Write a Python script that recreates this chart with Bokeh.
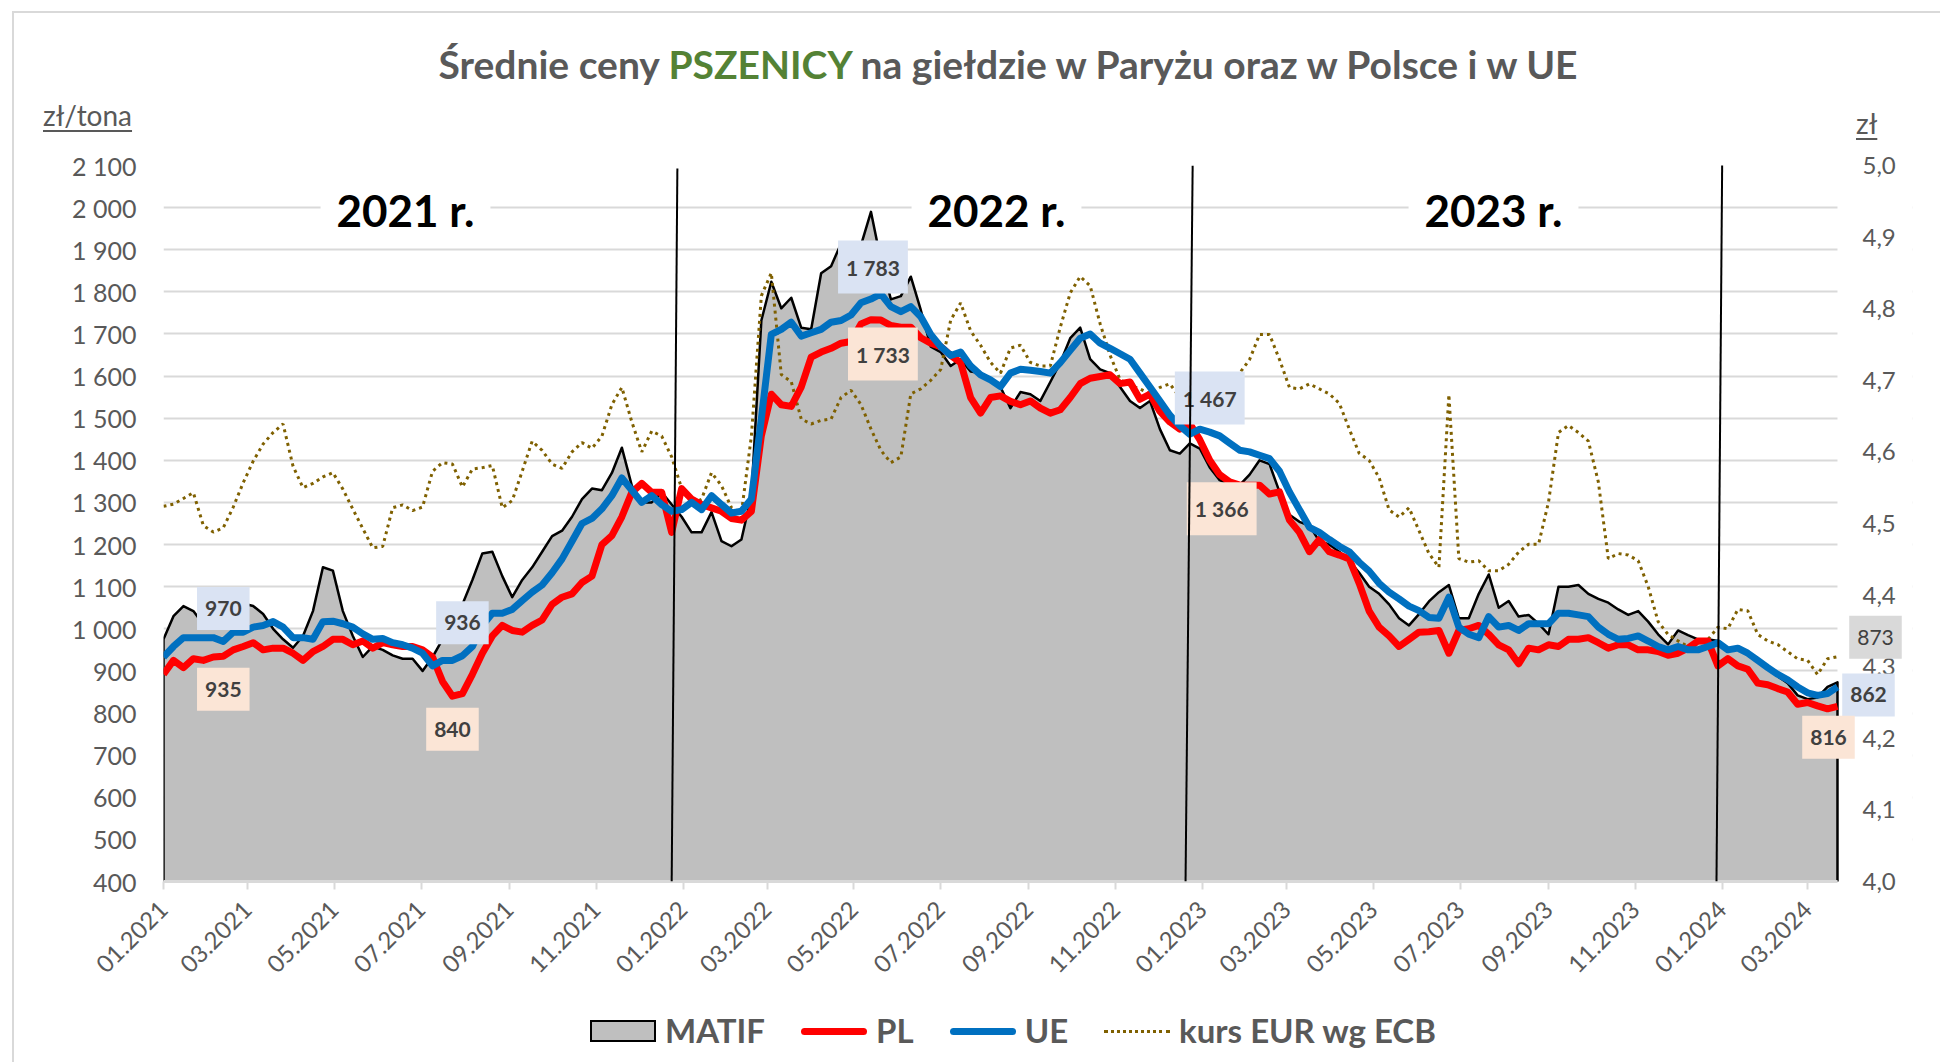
import math
import pandas as pd
from bokeh.plotting import figure
from bokeh.layouts import column
from bokeh.models import (Range1d, LinearAxis, FixedTicker, CustomJSTickFormatter,
                          DatetimeTickFormatter, Label, BoxAnnotation, Arrow, Div)
from bokeh.embed import file_html
from bokeh.resources import INLINE

# ---------------- data (weekly, from 01.01.2021) ----------------
start_date = "2021-01-01"
n_weeks = 169

matif = [
    975, 1030, 1054, 1042, 1010, 1000, 1040, 1095, 1060, 1054,
    1035, 1000, 975, 955, 983, 1042, 1146, 1138, 1042, 983,
    933, 958, 950, 937, 929, 929, 900, 933, 975, 1008,
    1058, 1116, 1179, 1183, 1125, 1075, 1116, 1146, 1183, 1220,
    1233, 1266, 1308, 1333, 1329, 1370, 1430, 1340, 1300, 1300,
    1324, 1295, 1266, 1229, 1229, 1277, 1208, 1196, 1212, 1316,
    1732, 1824, 1761, 1786, 1715, 1711, 1844, 1861, 1915, 1874,
    1911, 1990, 1874, 1782, 1790, 1836, 1757, 1670, 1657, 1624,
    1640, 1611, 1607, 1595, 1574, 1524, 1562, 1557, 1541, 1586,
    1632, 1690, 1715, 1640, 1616, 1607, 1574, 1541, 1524, 1541,
    1474, 1424, 1416, 1440, 1428, 1383, 1353, 1343, 1341, 1366,
    1400, 1391, 1325, 1271, 1254, 1245, 1208, 1200, 1183, 1162,
    1133, 1100, 1083, 1058, 1025, 1008, 1035, 1065, 1087, 1104,
    1025, 1025, 1083, 1129, 1050, 1066, 1029, 1033, 1012, 987,
    1100, 1100, 1104, 1083, 1071, 1062, 1046, 1033, 1042, 1017,
    987, 963, 996, 985, 975, 975, 971, 950, 954, 937,
    925, 908, 887, 871, 842, 833, 837, 862, 873,
]

pl = [
    892, 925, 908, 929, 925, 933, 935, 950, 958, 967,
    950, 954, 954, 942, 925, 946, 958, 975, 975, 962,
    971, 954, 967, 962, 958, 958, 950, 933, 875, 840,
    846, 892, 942, 983, 1008, 996, 992, 1008, 1021, 1058,
    1075, 1083, 1110, 1125, 1200, 1221, 1266, 1324, 1345, 1324,
    1324, 1229, 1333, 1308, 1295, 1287, 1279, 1262, 1258, 1279,
    1458, 1557, 1532, 1528, 1574, 1645, 1657, 1666, 1678, 1682,
    1724, 1734, 1733, 1720, 1716, 1716, 1691, 1678, 1670, 1649,
    1632, 1549, 1512, 1549, 1553, 1540, 1532, 1541, 1524, 1512,
    1520, 1549, 1582, 1595, 1599, 1603, 1582, 1586, 1545, 1557,
    1516, 1491, 1474, 1487, 1449, 1400, 1366, 1349, 1341, 1341,
    1341, 1320, 1325, 1258, 1229, 1183, 1212, 1183, 1175, 1166,
    1108, 1042, 1004, 983, 958, 975, 992, 993, 996, 942,
    996, 1000, 1008, 987, 962, 950, 917, 954, 950, 962,
    958, 975, 975, 979, 967, 954, 962, 962, 950, 950,
    946, 937, 942, 954, 971, 971, 912, 929, 912, 904,
    871, 867, 858, 850, 821, 825, 817, 810, 816,
]

ue = [
    933, 958, 979, 979, 979, 979, 970, 992, 992, 1004,
    1008, 1017, 1004, 979, 979, 975, 1017, 1018, 1012, 1004,
    988, 975, 977, 967, 962, 954, 942, 912, 925, 925,
    936, 958, 1008, 1037, 1037, 1046, 1067, 1087, 1104, 1133,
    1166, 1208, 1250, 1262, 1285, 1316, 1358, 1329, 1300, 1316,
    1295, 1279, 1283, 1300, 1283, 1316, 1295, 1275, 1279, 1308,
    1499, 1699, 1711, 1728, 1695, 1703, 1711, 1728, 1732, 1745,
    1774, 1783, 1795, 1765, 1753, 1765, 1741, 1699, 1670, 1649,
    1657, 1624, 1603, 1591, 1575, 1607, 1616, 1614, 1611, 1607,
    1632, 1661, 1690, 1700, 1678, 1666, 1653, 1640, 1607, 1574,
    1541, 1507, 1482, 1462, 1474, 1467, 1458, 1441, 1424, 1420,
    1412, 1404, 1374, 1325, 1283, 1241, 1229, 1212, 1196, 1183,
    1158, 1137, 1108, 1087, 1071, 1054, 1043, 1027, 1025, 1075,
    1004, 987, 979, 1029, 1004, 1008, 996, 1012, 1012, 1012,
    1037, 1037, 1033, 1029, 1004, 987, 975, 977, 983, 971,
    958, 950, 958, 950, 950, 958, 967, 950, 954, 942,
    925, 908, 892, 879, 862, 848, 842, 846, 862,
]

eur = [
    4.524, 4.527, 4.535, 4.543, 4.497, 4.488, 4.494, 4.523, 4.557, 4.587,
    4.611, 4.627, 4.639, 4.580, 4.550, 4.556, 4.565, 4.571, 4.548, 4.520,
    4.493, 4.466, 4.468, 4.522, 4.526, 4.518, 4.523, 4.573, 4.585, 4.583,
    4.551, 4.576, 4.578, 4.581, 4.522, 4.532, 4.573, 4.615, 4.602, 4.583,
    4.577, 4.600, 4.613, 4.605, 4.622, 4.666, 4.690, 4.642, 4.600, 4.629,
    4.622, 4.593, 4.549, 4.526, 4.534, 4.571, 4.553, 4.522, 4.515, 4.622,
    4.818, 4.850, 4.708, 4.698, 4.646, 4.639, 4.644, 4.646, 4.676, 4.686,
    4.666, 4.632, 4.602, 4.585, 4.593, 4.681, 4.688, 4.700, 4.715, 4.784,
    4.808, 4.769, 4.749, 4.725, 4.710, 4.745, 4.749, 4.725, 4.720, 4.720,
    4.774, 4.822, 4.845, 4.832, 4.779, 4.735, 4.701, 4.693, 4.688, 4.681,
    4.690, 4.695, 4.676, 4.674, 4.681, 4.688, 4.701, 4.708, 4.710, 4.729,
    4.764, 4.764, 4.729, 4.690, 4.688, 4.695, 4.688, 4.681, 4.668, 4.632,
    4.598, 4.588, 4.564, 4.519, 4.509, 4.522, 4.490, 4.458, 4.439, 4.680,
    4.451, 4.446, 4.448, 4.434, 4.434, 4.443, 4.460, 4.471, 4.471, 4.530,
    4.627, 4.637, 4.627, 4.615, 4.558, 4.451, 4.458, 4.456, 4.448, 4.412,
    4.363, 4.345, 4.336, 4.328, 4.336, 4.338, 4.355, 4.353, 4.380, 4.378,
    4.345, 4.336, 4.331, 4.321, 4.311, 4.309, 4.289, 4.311, 4.314,
]

assert len(matif) == len(pl) == len(ue) == len(eur) == n_weeks

x_tick_labels = ["01.2021", "03.2021", "05.2021", "07.2021", "09.2021", "11.2021",
                 "01.2022", "03.2022", "05.2022", "07.2022", "09.2022", "11.2022",
                 "01.2023", "03.2023", "05.2023", "07.2023", "09.2023", "11.2023",
                 "01.2024", "03.2024"]
zl_ticks = list(range(400, 2101, 100))
eur_ticks = [round(4.0 + 0.1 * k, 1) for k in range(11)]

year_labels = ["2021 r.", "2022 r.", "2023 r."]
year_break_top = ["2021-12-28", "2022-12-25", "2024-01-01"]
year_break_bottom = ["2021-12-24", "2022-12-20", "2023-12-28"]
year_break_top_value = [2093, 2100, 2110]

series_names = ["MATIF", "PL", "UE", "kurs EUR wg ECB"]
title_parts = ["Średnie ceny", "PSZENICY", "na giełdzie w Paryżu oraz w Polsce i w UE"]
y_unit_left = "zł/tona"
y_unit_right = "zł"

# ---------------- styling ----------------
FONT = "Lato"
GREY_TXT = "#595959"
GRID = "#d9d9d9"
C_MATIF = "#bfbfbf"
C_PL = "#ff0000"
C_UE = "#0070c0"
C_EUR = "#7f6000"
HEADER_H = 145           # height of the html header above the figure
X_PAD_RIGHT_DAYS = 52.7  # room right of the last week for the end labels


def ms(d):
    return pd.Timestamp(d).value / 1e6


DAY_MS = 86400000.0
dates = pd.date_range(start_date, periods=n_weeks, freq="7D")
dates_ms = [ms(d) for d in dates]
y_min, y_max = zl_ticks[0], zl_ticks[-1]

p = figure(frame_width=1749, frame_height=716, x_axis_type="datetime",
           x_range=Range1d(start=dates_ms[0], end=dates_ms[-1] + X_PAD_RIGHT_DAYS * DAY_MS),
           y_range=Range1d(y_min, y_max),
           output_backend="svg", toolbar_location=None,
           min_border_left=163, min_border_right=20,
           min_border_top=20, min_border_bottom=181)
if p.title is not None:
    p.title.visible = False
p.extra_y_ranges = {"eur": Range1d(eur_ticks[0], eur_ticks[-1])}
p.outline_line_color = None
p.background_fill_color = "white"
p.border_fill_color = "white"
p.xgrid.visible = False
p.ygrid.grid_line_color = GRID
p.ygrid.grid_line_width = 2

# left axis
ya = p.yaxis[0]
ya.ticker = FixedTicker(ticks=zl_ticks)
ya.formatter = CustomJSTickFormatter(code="""
const v = Math.round(tick);
if (v >= 1000) { return Math.floor(v/1000) + ' ' + String(v % 1000).padStart(3, '0'); }
return String(v);
""")
ya.axis_line_color = None
ya.major_tick_line_color = None
ya.minor_tick_line_color = None
ya.major_tick_out = 0
ya.major_tick_in = 0
ya.major_label_standoff = 27
ya.major_label_text_font = FONT
ya.major_label_text_font_size = "25px"
ya.major_label_text_color = GREY_TXT

# right axis (labels drawn just right of the last week)
ra = LinearAxis(y_range_name="eur", ticker=FixedTicker(ticks=eur_ticks),
                formatter=CustomJSTickFormatter(code="return tick.toFixed(1).replace('.', ',');"))
ra.axis_line_color = None
ra.major_tick_line_color = None
ra.minor_tick_line_color = None
ra.major_tick_out = 0
ra.major_tick_in = 0
ra.major_label_standoff = -50
ra.major_label_text_font = FONT
ra.major_label_text_font_size = "24px"
ra.major_label_text_color = GREY_TXT
p.add_layout(ra, "right")

# x axis
xa = p.xaxis[0]
x_ticks = [ms(pd.to_datetime("01." + lab, format="%d.%m.%Y")) for lab in x_tick_labels]
xa.ticker = FixedTicker(ticks=x_ticks)
xa.bounds = (dates_ms[0], dates_ms[-1])
fmt = "%m.%Y"
xa.formatter = DatetimeTickFormatter(milliseconds=fmt, seconds=fmt, minsec=fmt, minutes=fmt,
                                     hourmin=fmt, hours=fmt, days=fmt, months=fmt, years=fmt)
xa.major_label_orientation = math.pi / 4
xa.axis_line_color = GRID
xa.axis_line_width = 3
xa.major_tick_line_color = GRID
xa.major_tick_line_width = 2
xa.major_tick_out = 8
xa.major_tick_in = 0
xa.minor_tick_line_color = None
xa.major_label_standoff = 16
xa.major_label_text_font = FONT
xa.major_label_text_font_size = "24px"
xa.major_label_text_color = GREY_TXT

# hide grid lines right of the last week
p.add_layout(BoxAnnotation(left=dates_ms[-1], fill_color="white", fill_alpha=1,
                           line_color=None, level="underlay"))

# ---------------- series ----------------
r_matif = p.patch(x=[dates_ms[0]] + dates_ms + [dates_ms[-1]], y=[y_min] + matif + [y_min],
                  fill_color=C_MATIF, line_color="black", line_width=2.5, line_join="round")
r_eur = p.line(x=dates_ms, y=eur, y_range_name="eur", line_color=C_EUR,
               line_width=3, line_dash="3 4")
r_pl = p.line(x=dates_ms, y=pl, line_color=C_PL, line_width=7, line_join="round")
r_ue = p.line(x=dates_ms, y=ue, line_color=C_UE, line_width=7, line_join="round")

# ---------------- data labels ----------------
def fmt_val(v):
    v = int(round(v))
    return f"{v // 1000} {v % 1000:03d}" if v >= 1000 else str(v)

label_specs = [
    # series, index, bg, x_off, y_off, bold
    (ue, 6, "#dae3f3", 0, 33, True),
    (pl, 6, "#fbe5d6", 0, -33, True),
    (ue, 30, "#dae3f3", 0, 33, True),
    (pl, 29, "#fbe5d6", 0, -33, True),
    (ue, 71, "#dae3f3", 2, 32, True),
    (pl, 72, "#fbe5d6", 2, -34, True),
    (ue, 105, "#dae3f3", 0, 34, True),
    (pl, 106, "#fbe5d6", 2, -34, True),
    (matif, n_weeks - 1, "#d9d9d9", 38, 45, False),
    (ue, n_weeks - 1, "#dae3f3", 31, -8, True),
    (pl, n_weeks - 1, "#fbe5d6", -9, -31, True),
]
for ser, idx, bg, xo, yo, bold in label_specs:
    p.add_layout(Label(x=dates_ms[idx], y=ser[idx], text=fmt_val(ser[idx]),
                       x_offset=xo, y_offset=yo, text_align="center", text_baseline="middle",
                       text_font=FONT, text_font_size="21px",
                       text_font_style="bold" if bold else "normal",
                       text_color="#404040", background_fill_color=bg, padding=(8, 14)))

# year labels (screen units relative to plot frame)
year_label_pos = [(242, 672), (833, 672), (1330, 672)]
for txt, (sx, sy) in zip(year_labels, year_label_pos):
    p.add_layout(Label(x=sx, y=sy, x_units="screen", y_units="screen", text=txt,
                       text_align="center", text_baseline="middle",
                       text_font=FONT, text_font_size="44px", text_font_style="bold",
                       text_color="black", background_fill_color="white", padding=(16, 2)))

# year separators (drawn shapes)
for t, b, tv in zip(year_break_top, year_break_bottom, year_break_top_value):
    p.add_layout(Arrow(end=None, x_start=ms(t), y_start=tv, x_end=ms(b), y_end=y_min,
                       line_color="black", line_width=2))

# ---------------- header (title, axis units, legend) ----------------
legend_glyphs = [
    f'<div style="width:66px;height:22px;box-sizing:border-box;background:{C_MATIF};border:2.5px solid black;"></div>',
    f'<div style="width:66px;height:7px;border-radius:4px;background:{C_PL};"></div>',
    f'<div style="width:66px;height:7px;border-radius:4px;background:{C_UE};"></div>',
    f'<div style="width:66px;height:0;border-top:3px dotted {C_EUR};"></div>',
]
legend_html = "".join(
    f'<div style="display:flex;align-items:center;margin-right:36px;">{g}'
    f'<span style="margin-left:9px;">{name}</span></div>'
    for g, name in zip(legend_glyphs, series_names))

header_html = f"""
<div style="position:relative;width:1932px;height:{HEADER_H}px;font-family:Lato,sans-serif;">
  <div style="position:absolute;left:12px;top:11px;width:1928px;height:2px;background:{GRID};"></div>
  <div style="position:absolute;left:12px;top:11px;width:2px;height:1051px;background:{GRID};z-index:5;"></div>
  <div style="position:absolute;left:84px;top:41px;width:1848px;text-align:center;font-size:39px;
              font-weight:bold;line-height:1.2;color:{GREY_TXT};white-space:nowrap;">{title_parts[0]} <span style="color:#548235;">{title_parts[1]}</span> {title_parts[2]}</div>
  <div style="position:absolute;left:43px;top:99px;font-size:28px;line-height:1.2;color:{GREY_TXT};
              text-decoration:underline;text-decoration-thickness:2px;text-underline-offset:4px;white-space:nowrap;">{y_unit_left}</div>
  <div style="position:absolute;left:1856px;top:107px;font-size:28px;line-height:1.2;color:{GREY_TXT};
              text-decoration:underline;text-decoration-thickness:2px;text-underline-offset:4px;white-space:nowrap;">{y_unit_right}</div>
  <div style="position:absolute;left:590px;top:1011px;height:40px;display:flex;align-items:center;
              white-space:nowrap;font-size:33px;font-weight:bold;line-height:1.2;color:{GREY_TXT};z-index:6;">{legend_html}</div>
</div>
"""
header = Div(text=header_html, width=1932, height=HEADER_H, margin=0,
             styles={"overflow": "visible", "z-index": "5"})

layout = column(header, p, spacing=0)
open("out.html", "w").write(file_html(layout, INLINE))
